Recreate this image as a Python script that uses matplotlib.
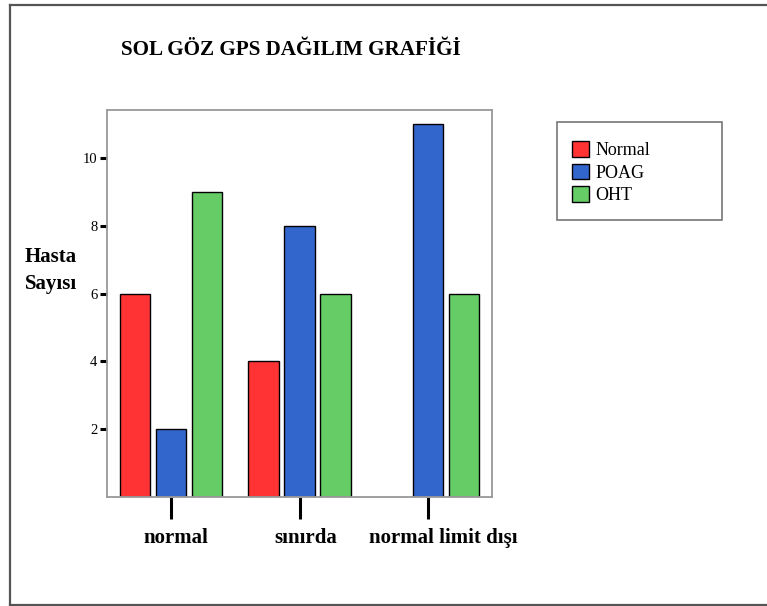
import matplotlib.pyplot as plt
import matplotlib.transforms as mtransforms
from matplotlib.lines import Line2D
from matplotlib.patches import Rectangle
import numpy as np

plt.rcParams['font.family'] = ['Liberation Serif', 'DejaVu Serif']

categories = ['normal', 'sınırda', 'normal limit dışı']
normal = [6, 4, 0]
poag = [2, 8, 11]
oht = [9, 6, 6]
series = [('Normal', normal, '#FF3333'),
          ('POAG', poag, '#3366CC'),
          ('OHT', oht, '#66CC66')]
yticks = [2, 4, 6, 8, 10]

W, H = 767, 606
fig = plt.figure(figsize=(W / 100, H / 100), dpi=100)

# axes box in pixels: left 107, right 492, top 110, bottom 497
ax = fig.add_axes([107 / W, 1 - 497 / H, 385 / W, 387 / H])

x = np.arange(len(categories))
step = 0.28
width = 0.235
handles = []
for i, (name, vals, col) in enumerate(series):
    bars = ax.bar(x + (i - 1) * step, vals, width, color=col,
                  edgecolor='black', linewidth=1.0, label=name)
    for b, v in zip(bars, vals):
        if v == 0:
            b.set_visible(False)
    handles.append(bars)

ax.set_xlim(-0.5, 2.5)
ax.set_ylim(0, 11.42)
ax.set_yticks(yticks)
ax.set_yticklabels([str(t) for t in yticks], fontsize=10.5)
ax.set_xticks(x)
ax.set_xticklabels(categories, fontsize=15, fontweight='bold')
ax.tick_params(axis='y', direction='out', length=5, width=2.2, color='black', pad=2)
ax.tick_params(axis='x', direction='out', length=16, width=2.2, color='black', pad=6)
for s in ax.spines.values():
    s.set_color('#999999')
    s.set_linewidth(1.3)

# category labels sit a little right of their ticks
for lab, dx in zip(ax.get_xticklabels(), [5, 6, 15]):
    lab.set_transform(lab.get_transform() +
                      mtransforms.ScaledTranslation(dx / 100, 0, fig.dpi_scale_trans))

# title and two-line y label
fig.text(121 / W, 1 - 55 / H, 'SOL GÖZ GPS DAĞILIM GRAFİĞİ', fontsize=15.2,
         fontweight='bold', ha='left', va='baseline')
fig.text(25 / W, 1 - 262 / H, 'Hasta', fontsize=15, fontweight='bold',
         ha='left', va='baseline')
fig.text(25 / W, 1 - 289 / H, 'Sayısı', fontsize=15, fontweight='bold',
         ha='left', va='baseline')

# legend box
fig.patches.append(Rectangle((557 / W, 1 - 220 / H), 165 / W, 98 / H,
                             transform=fig.transFigure, facecolor='white',
                             edgecolor='#777777', linewidth=1.2, zorder=1))
leg = fig.legend(handles=handles, loc='upper left',
                 bbox_to_anchor=(572 / W, 1 - 141 / H), frameon=False,
                 fontsize=13, handlelength=0.95, handleheight=0.95,
                 handletextpad=0.35, labelspacing=0.25, borderpad=0,
                 borderaxespad=0)
leg.set_zorder(2)

# outer border (left, top, bottom)
for xs, ys in [([9.5, 9.5], [4.5, 605]), ([9.5, W], [4.5, 4.5]), ([9.5, W], [605, 605])]:
    fig.lines.append(Line2D([v / W for v in xs], [1 - v / H for v in ys],
                            transform=fig.transFigure, color='#555555', linewidth=1.6))

fig.savefig('out.png', dpi=100)
